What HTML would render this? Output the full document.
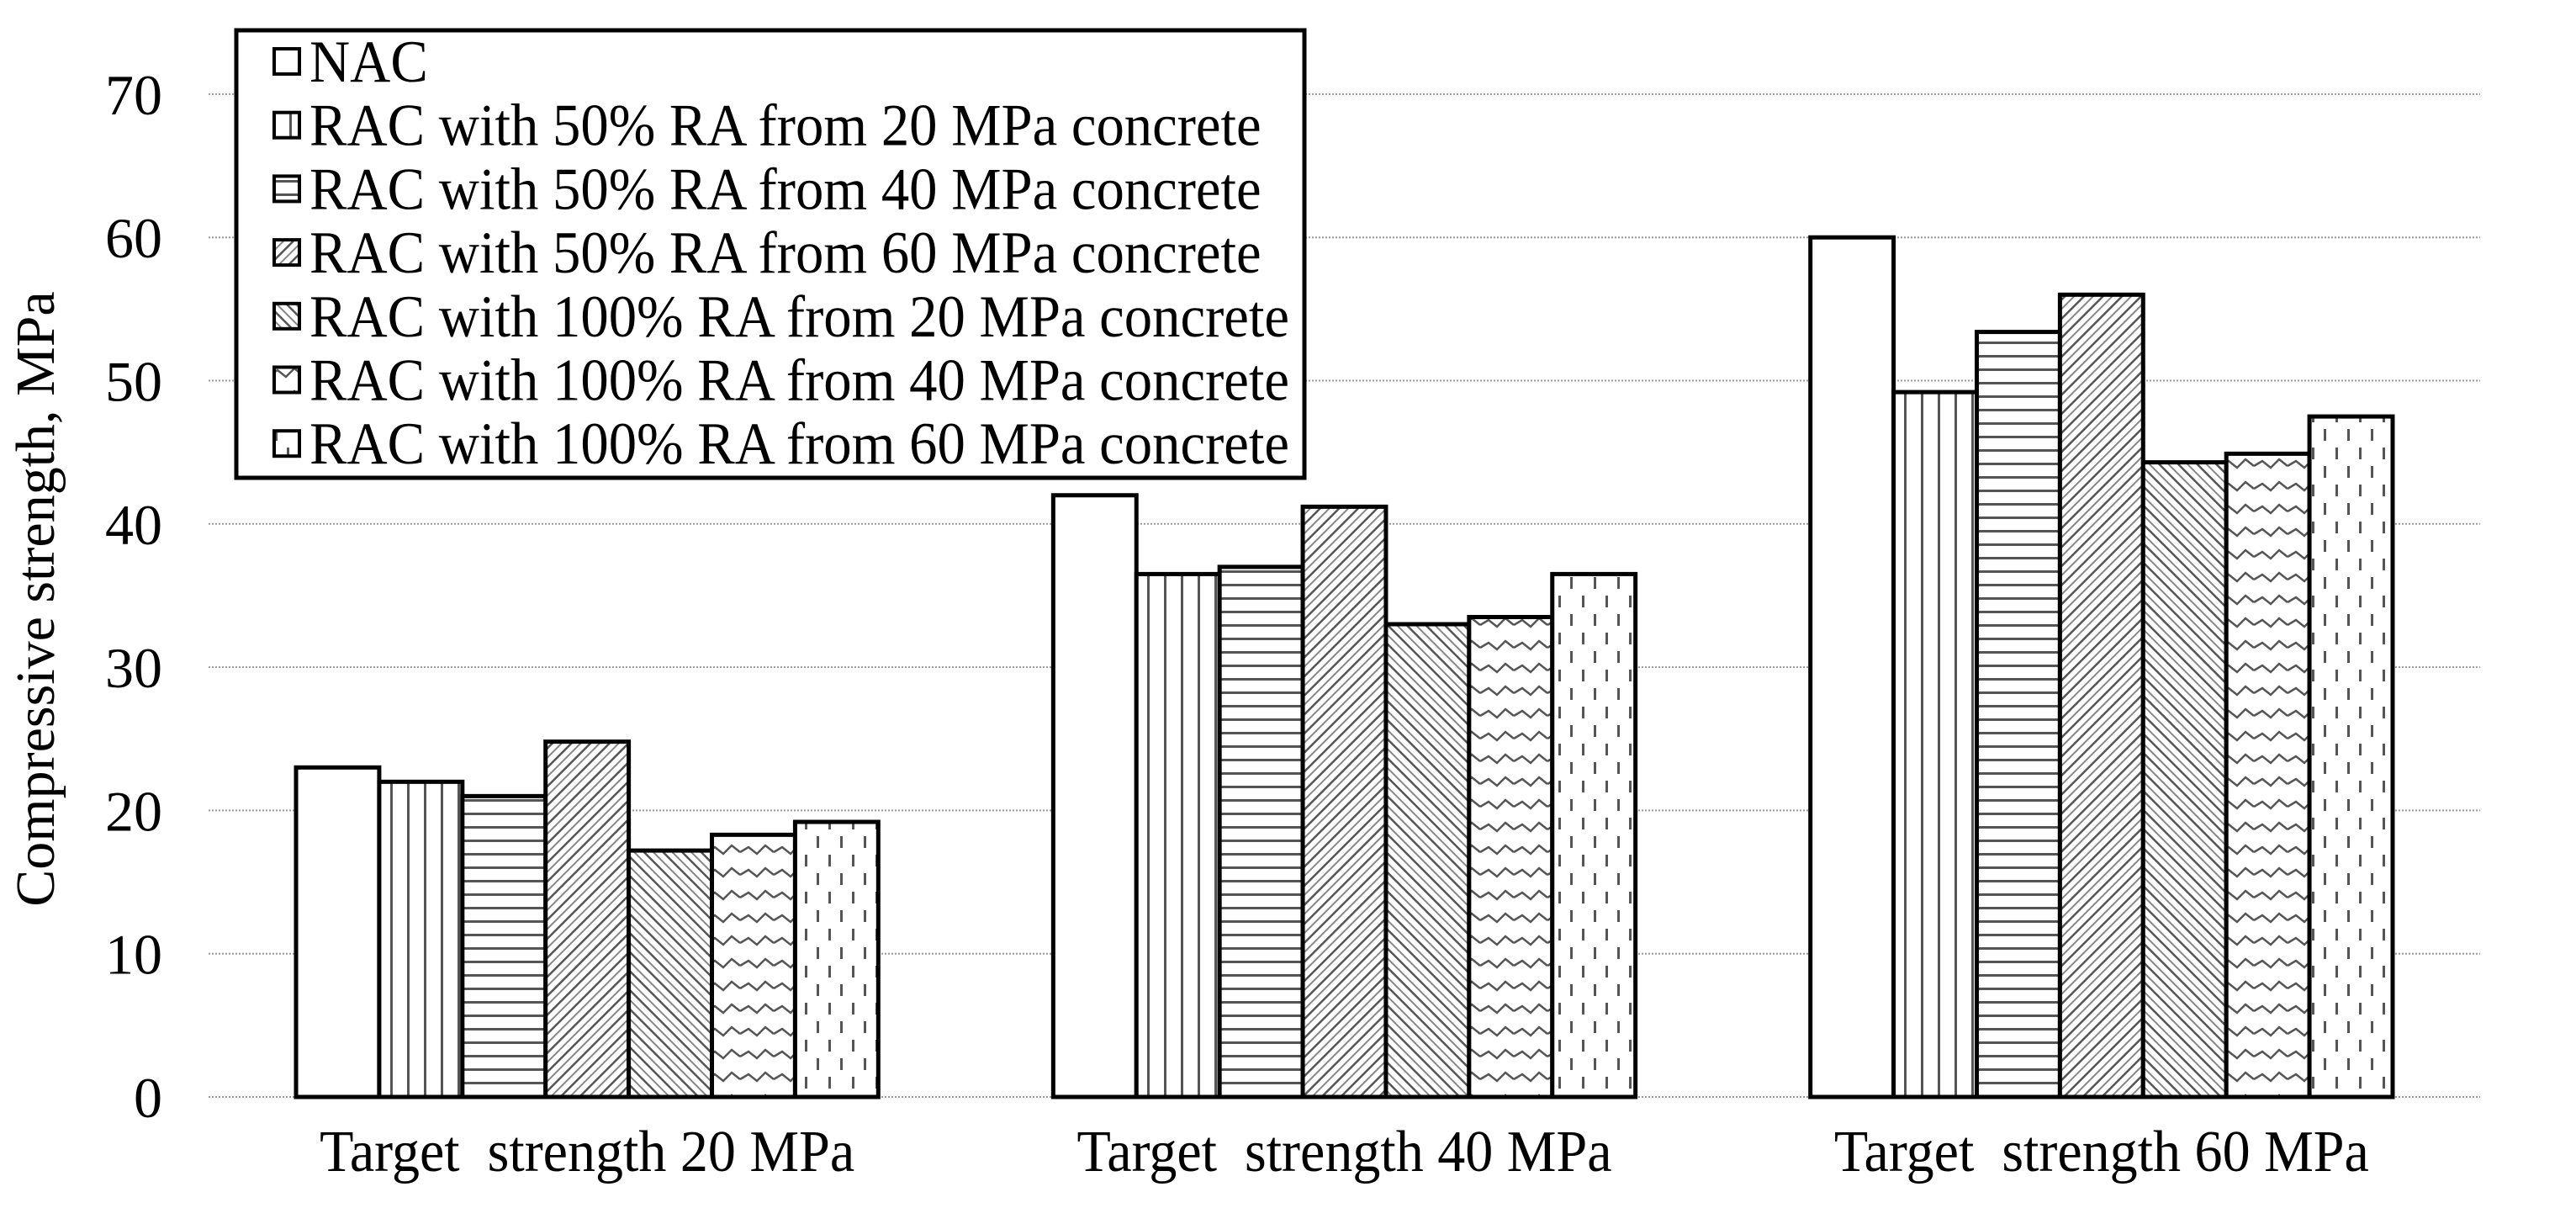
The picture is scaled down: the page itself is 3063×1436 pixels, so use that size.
<!DOCTYPE html>
<html><head><meta charset="utf-8"><style>
html,body{margin:0;padding:0;background:#fff}
svg{display:block}
svg text{font-family:"Liberation Serif","Times New Roman",Times,"DejaVu Serif",serif;fill:#000}
</style></head><body>
<svg id="chart" width="3063" height="1436" viewBox="0 0 3063 1436" xmlns="http://www.w3.org/2000/svg">
<defs>
<pattern id="p0" width="10" height="10" patternUnits="userSpaceOnUse"><rect width="10" height="10" fill="#fff"/></pattern>
<pattern id="p1" width="20" height="10" patternUnits="userSpaceOnUse"><rect width="20" height="10" fill="#fff"/><rect x="4" width="3" height="10" fill="#555"/></pattern>
<pattern id="p2" width="10" height="16" patternUnits="userSpaceOnUse"><rect width="10" height="16" fill="#fff"/><rect y="6" width="10" height="3" fill="#555"/></pattern>
<pattern id="p3" width="16" height="16" patternUnits="userSpaceOnUse" patternTransform="rotate(45)"><rect width="16" height="16" fill="#fff"/><rect x="0" width="2.5" height="16" fill="#555"/><rect x="8" width="2" height="16" fill="#888"/></pattern>
<pattern id="p4" width="16" height="16" patternUnits="userSpaceOnUse" patternTransform="rotate(-45)"><rect width="16" height="16" fill="#fff"/><rect x="0" width="2.5" height="16" fill="#555"/><rect x="8" width="2" height="16" fill="#888"/></pattern>
<pattern id="p5" width="40" height="27" patternUnits="userSpaceOnUse"><rect width="40" height="27" fill="#fff"/><path d="M0 14 L10 8 L20 16 L30 6 L40 14" stroke="#555" stroke-width="2.5" fill="none"/></pattern>
<pattern id="p6" width="28" height="44" patternUnits="userSpaceOnUse"><rect width="28" height="44" fill="#fff"/><rect x="5" y="4" width="3" height="14" fill="#555"/><rect x="19" y="26" width="3" height="14" fill="#555"/></pattern>
</defs>
<g id="grid"></g>
<g id="bars"></g>
<g id="axis-labels"></g>
<text transform="translate(64,712) rotate(-90)" text-anchor="middle" font-size="66">Compressive strength, MPa</text>
<g>
<rect x="281" y="36" width="1270" height="532" fill="#fff" stroke="#000" stroke-width="5"/>
<g id="legend-entries"></g>
</g>
</svg>
<script>
const categories = ["Target  strength 20 MPa", "Target  strength 40 MPa", "Target  strength 60 MPa"];
const seriesNames = ["NAC", "RAC with 50% RA from 20 MPa concrete", "RAC with 50% RA from 40 MPa concrete", "RAC with 50% RA from 60 MPa concrete", "RAC with 100% RA from 20 MPa concrete", "RAC with 100% RA from 40 MPa concrete", "RAC with 100% RA from 60 MPa concrete"];
const nac = [23, 42, 60];
const rac50from20 = [22, 36.5, 49.2];
const rac50from40 = [21, 37, 53.4];
const rac50from60 = [24.8, 41.2, 56];
const rac100from20 = [17.2, 33, 44.3];
const rac100from40 = [18.3, 33.5, 44.9];
const rac100from60 = [19.2, 36.5, 47.5];
const yTicks = [0, 10, 20, 30, 40, 50, 60, 70];

const series = [nac, rac50from20, rac50from40, rac50from60, rac100from20, rac100from40, rac100from60];
const NS = "http://www.w3.org/2000/svg";
const plotL = 248, plotR = 2949, y0 = 1304, yPer = 17.03;
const catW = (plotR - plotL) / categories.length;
const barW = 98.9;
const y = v => y0 - v * yPer;
const xBar = (c, s) => plotL + catW * c + catW / 2 - barW * series.length / 2 + barW * s;
function mk(tag, attrs, parent) { const e = document.createElementNS(NS, tag); for (const k in attrs) e.setAttribute(k, attrs[k]); parent.appendChild(e); return e; }

const grid = document.getElementById('grid');
const labels = document.getElementById('axis-labels');
yTicks.forEach(t => {
  const g = mk('line', {x1: plotL, x2: plotR, y1: y(t), y2: y(t), stroke: '#999', 'stroke-width': 2, 'stroke-dasharray': '2 2'}, grid);
  
  
  const tx = mk('text', {x: 193, y: y(t) + 24, 'text-anchor': 'end', 'font-size': 68}, labels);
  tx.textContent = t;
  
  
});
categories.forEach((c, i) => {
  const tx = mk('text', {x: plotL + catW * i + catW / 2, y: 1392, 'text-anchor': 'middle', 'font-size': 70, textLength: 636, lengthAdjust: 'spacingAndGlyphs'}, labels);
  tx.textContent = c;
  tx.style.whiteSpace = 'pre';
  
  
});
const bars = document.getElementById('bars');
series.forEach((vals, s) => {
  vals.forEach((v, c) => {
    const r = mk('rect', {x: xBar(c, s), y: y(v), width: barW, height: y0 - y(v), fill: 'url(#p' + s + ')', stroke: '#000', 'stroke-width': 5}, bars);
    
    
  });
});
const leg = document.getElementById('legend-entries');
const legTexts = [];
seriesNames.forEach((n, i) => {
  const cy = 73 + i * 75.7;
  const sw = mk('rect', {x: 326, y: cy - 15, width: 30, height: 30, fill: 'url(#p' + i + ')', stroke: '#000', 'stroke-width': 4}, leg);
  
  
  const tx = mk('text', {x: 368, y: cy + 24, 'font-size': 71}, leg);
  tx.textContent = n;
  
  
  legTexts.push(tx);
});
const widths = legTexts.map(t => t.getComputedTextLength());
const maxW = Math.max(...widths);
const k = Math.min(1, 1165 / maxW);
legTexts.forEach((t, i) => {
  t.setAttribute('textLength', widths[i] * k);
  t.setAttribute('lengthAdjust', 'spacingAndGlyphs');
});
</script>
</body></html>
